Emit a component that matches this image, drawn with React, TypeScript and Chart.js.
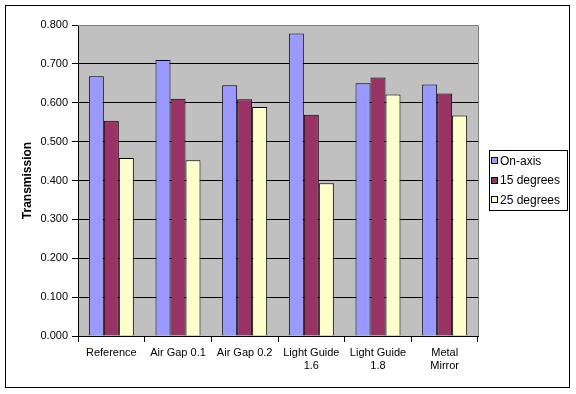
import React, { useEffect, useRef } from "react";
import { Chart, registerables } from "chart.js";

Chart.register(...registerables);

const categories: (string | string[])[] = [
  "Reference",
  "Air Gap 0.1",
  "Air Gap 0.2",
  ["Light Guide", "1.6"],
  ["Light Guide", "1.8"],
  ["Metal", "Mirror"],
];
const onAxis = [0.668, 0.71, 0.645, 0.778, 0.65, 0.647];
const deg15 = [0.554, 0.61, 0.609, 0.569, 0.665, 0.624];
const deg25 = [0.458, 0.452, 0.589, 0.393, 0.621, 0.567];
const seriesNames = ["On-axis", "15 degrees", "25 degrees"];
const seriesColors = ["#9999FF", "#993366", "#FFFFCC"];
const yTitle = "Transmission";

const FONT = "'Liberation Sans', Arial, sans-serif";

const decor = {
  id: "decor",
  beforeDraw(chart: any) {
    const { ctx, chartArea: a } = chart;
    ctx.save();
    ctx.fillStyle = "#FFFFFF";
    ctx.fillRect(0, 0, chart.width, chart.height);
    ctx.fillStyle = "#C0C0C0";
    ctx.fillRect(a.left, a.top, a.right - a.left, a.bottom - a.top);
    ctx.restore();
  },
  afterDraw(chart: any) {
    const { ctx, chartArea: a } = chart;
    ctx.save();
    // plot area top/right border
    ctx.strokeStyle = "#808080";
    ctx.lineWidth = 1;
    ctx.beginPath();
    ctx.moveTo(a.left, Math.round(a.top) + 0.5);
    ctx.lineTo(Math.round(a.right) + 0.5, Math.round(a.top) + 0.5);
    ctx.lineTo(Math.round(a.right) + 0.5, a.bottom);
    ctx.stroke();
    // outer border
    ctx.strokeStyle = "#000000";
    ctx.strokeRect(5.5, 5.5, 564, 382);
    // legend
    const lx = 489.5, ly = 150.5, lw = 78, lh = 60;
    ctx.fillStyle = "#FFFFFF";
    ctx.fillRect(lx, ly, lw, lh);
    ctx.strokeRect(lx, ly, lw, lh);
    ctx.font = `12px ${FONT}`;
    ctx.textBaseline = "middle";
    ctx.textAlign = "left";
    chart.data.datasets.forEach((ds: any, i: number) => {
      const cy = 161 + i * 19.5;
      ctx.fillStyle = ds.backgroundColor;
      ctx.fillRect(491.5, Math.round(cy) - 3.5, 6, 6);
      ctx.strokeStyle = "#000000";
      ctx.strokeRect(491.5, Math.round(cy) - 3.5, 6, 6);
      ctx.fillStyle = "#000000";
      ctx.fillText(ds.label, 500, cy + 0.5);
    });
    ctx.restore();
  },
};

export default function App() {
  const ref = useRef<HTMLCanvasElement>(null);
  useEffect(() => {
    document.body.style.margin = "0";
    const data = [onAxis, deg15, deg25];
    const chart = new Chart(ref.current!, {
      type: "bar",
      data: {
        labels: categories,
        datasets: seriesNames.map((name, i) => ({
          label: name,
          data: data[i],
          backgroundColor: seriesColors[i],
          borderColor: "#000000",
          borderWidth: 1,
          categoryPercentage: 0.675,
          barPercentage: 1,
        })),
      },
      options: {
        responsive: false,
        animation: false,
        devicePixelRatio: 1,
        layout: { padding: { left: 0, right: 98, top: 25, bottom: 0 } },
        plugins: { legend: { display: false }, tooltip: { enabled: false } },
        scales: {
          x: {
            afterFit: (s: any) => {
              s.height = 58;
            },
            grid: {
              offset: true,
              drawOnChartArea: false,
              drawTicks: true,
              tickLength: 6,
              color: "#000000",
            },
            border: { color: "#000000" },
            ticks: {
              color: "#000000",
              font: { family: FONT, size: 11 },
              padding: 4,
              maxRotation: 0,
              autoSkip: false,
            },
          },
          y: {
            min: 0,
            max: 0.8,
            afterFit: (s: any) => {
              s.width = 78;
            },
            grid: {
              color: (c: any) => (c.tick && c.tick.value >= 0.8 ? "#808080" : "#000000"),
              tickColor: "#000000",
              tickLength: 6,
            },
            border: { color: "#000000" },
            ticks: {
              stepSize: 0.1,
              color: "#000000",
              font: { family: FONT, size: 11 },
              padding: 4,
              callback: (v: any) => Number(v).toFixed(3),
            },
            title: {
              display: true,
              text: yTitle,
              color: "#000000",
              font: { family: FONT, size: 12, weight: "bold" },
              padding: { top: 20, bottom: 0 },
            },
          },
        },
      },
      plugins: [decor],
    });
    return () => chart.destroy();
  }, []);
  return <canvas ref={ref} width={576} height={394} style={{ display: "block" }} />;
}
